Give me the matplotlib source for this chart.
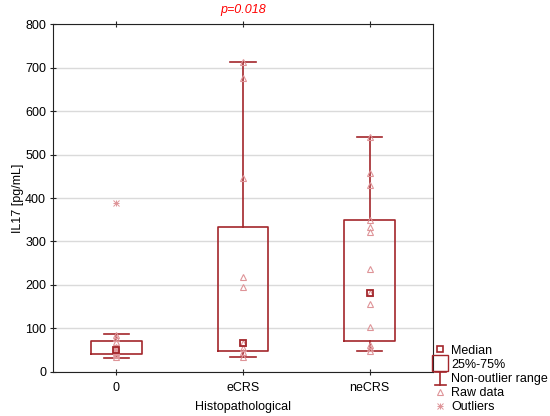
import numpy as np
import matplotlib
matplotlib.use("Agg")
import matplotlib.pyplot as plt
from matplotlib.lines import Line2D
from matplotlib.legend_handler import HandlerBase

plt.rcParams['font.family'] = ['Liberation Sans', 'DejaVu Sans']

groups = ['0', 'eCRS', 'neCRS']
q1 = [41, 47, 70]
q3 = [72, 334, 349]
medians = [50, 67, 181]
whis_lo = [33, 34, 48]
whis_hi = [87, 713, 541]
raw_0 = [34, 38, 42, 45, 48, 52, 58, 68, 78, 85]
raw_ecrs = [35, 45, 55, 67, 195, 218, 447, 676, 713]
raw_necrs = [48, 55, 62, 103, 156, 181, 236, 322, 334, 349, 430, 457, 541]
outliers = [[388], [], []]

red = '#A3262B'
pink = '#DE9498'

fig = plt.figure(figsize=(5.5, 4.16), dpi=100)
ax = fig.add_axes([0.0964, 0.106, 0.691, 0.836])

pos = [1, 2, 3]
stats = []
for i in range(3):
    stats.append(dict(med=medians[i], q1=q1[i], q3=q3[i], whislo=whis_lo[i],
                      whishi=whis_hi[i], fliers=[], label=groups[i]))

ax.bxp(stats, positions=pos, widths=0.4, capwidths=0.2, showfliers=False,
       boxprops=dict(color=red, linewidth=1.2),
       whiskerprops=dict(color=red, linewidth=1.2),
       capprops=dict(color=red, linewidth=1.2),
       medianprops=dict(linewidth=0))

for i, raw in enumerate([raw_0, raw_ecrs, raw_necrs]):
    ax.plot([pos[i]] * len(raw), raw, linestyle='none', marker='^', markersize=4.5,
            markerfacecolor='none', markeredgecolor=pink, markeredgewidth=0.8, zorder=3)
    for mk in ['+', 'x']:
        ax.plot([pos[i]] * len(outliers[i]), outliers[i], linestyle='none', marker=mk,
                markersize=5, markeredgecolor=pink, markeredgewidth=0.7, zorder=3)

ax.plot(pos, medians, linestyle='none', marker='s', markersize=5,
        markerfacecolor='none', markeredgecolor=red, markeredgewidth=1.3, zorder=4)

ax.set_xlim(0.5, 3.5)
ax.set_ylim(0, 800)
ax.set_yticks(np.arange(0, 801, 100))
ax.set_xticks(pos)
ax.set_xticklabels(groups)
ax.yaxis.grid(True, color='#DADADA', linewidth=1)
ax.set_axisbelow(True)
ax.tick_params(labelsize=9, direction='inout', length=4, top=True, color='#222222',
               pad=5)
ax.tick_params(axis='y', pad=3)
for s in ax.spines.values():
    s.set_color('#222222')
ax.set_xlabel('Histopathological', fontsize=9)
ax.set_ylabel('IL17 [pg/mL]', fontsize=9)
ax.xaxis.set_label_coords(0.5, -0.083)
ax.yaxis.set_label_coords(-0.076, 0.5)
ax.set_title('p=0.018', fontsize=9, color='red', style='italic', pad=8)


class CapHandler(HandlerBase):
    def create_artists(self, legend, orig, xd, yd, w, h, fs, trans):
        cx = xd + w / 2
        lines = [Line2D([cx, cx], [yd - 2, yd + h + 1]),
                 Line2D([cx - 4, cx + 4], [yd + h + 1, yd + h + 1]),
                 Line2D([cx - 4, cx + 4], [yd - 2, yd - 2])]
        for ln in lines:
            ln.set_color(red)
            ln.set_linewidth(1.2)
            ln.set_transform(trans)
        return lines


class StarHandler(HandlerBase):
    def create_artists(self, legend, orig, xd, yd, w, h, fs, trans):
        cx = xd + w / 2
        cy = yd + h / 2
        arts = []
        for mk in ['+', 'x']:
            ln = Line2D([cx], [cy], linestyle='none', marker=mk, markersize=4,
                        markeredgecolor=pink, markeredgewidth=0.7)
            ln.set_transform(trans)
            arts.append(ln)
        return arts


h_med = Line2D([], [], linestyle='none', marker='s', markersize=4,
               markerfacecolor='none', markeredgecolor=red, markeredgewidth=1.2)
h_box = Line2D([], [], linestyle='none', marker='s', markersize=11,
               markerfacecolor='none', markeredgecolor=red, markeredgewidth=1.0)
h_rng = Line2D([], [])
h_raw = Line2D([], [], linestyle='none', marker='^', markersize=4,
               markerfacecolor='none', markeredgecolor=pink, markeredgewidth=0.8)
h_out = Line2D([], [])
fig.legend([h_med, h_box, h_rng, h_raw, h_out],
           ['Median', '25%-75%', 'Non-outlier range', 'Raw data', 'Outliers'],
           handler_map={h_rng: CapHandler(), h_out: StarHandler()},
           loc='lower left', bbox_to_anchor=(0.786, 0.0), frameon=False,
           fontsize=9, handlelength=0.9, handletextpad=0.4, labelspacing=0.18,
           borderaxespad=0, borderpad=0.2)

fig.savefig('out.png', dpi=100)
